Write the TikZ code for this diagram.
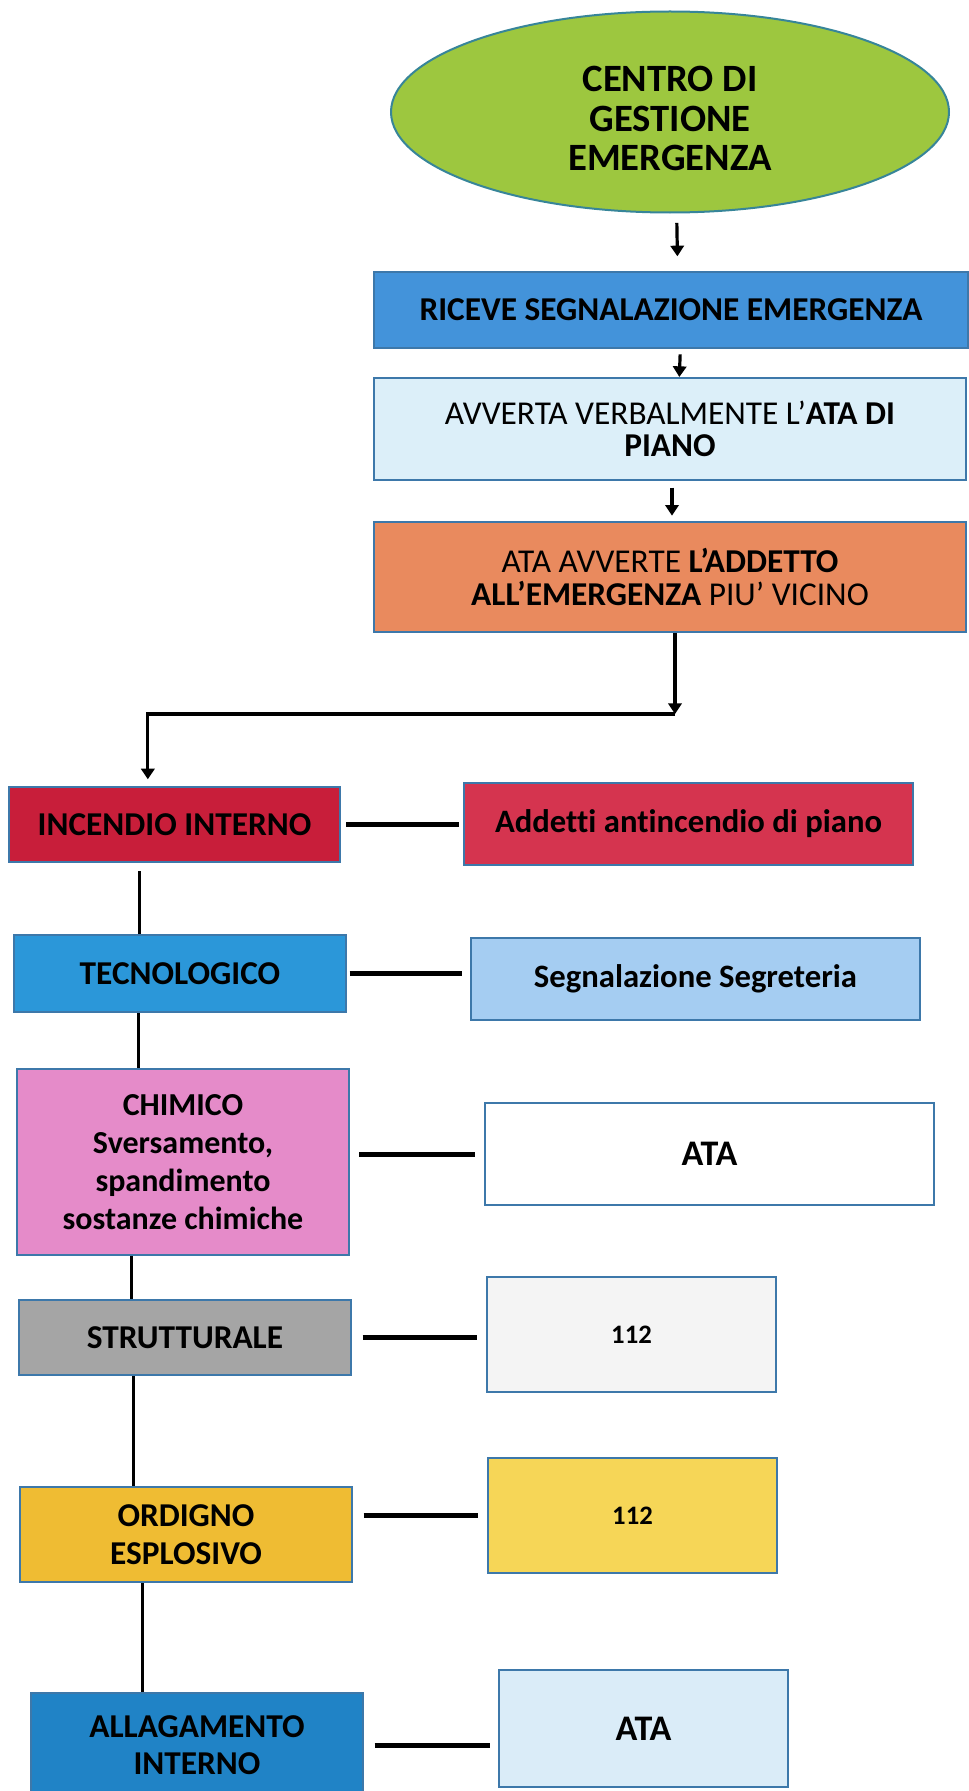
\documentclass[tikz,border=0pt]{standalone}
\usepackage{fontspec}
\setmainfont[Ligatures=NoCommon]{Carlito}
\usetikzlibrary{shapes.geometric,arrows.meta}

\definecolor{edgeblue}{HTML}{3D78AA}
\definecolor{centrogreen}{HTML}{9DC73F}
\definecolor{riceveblue}{HTML}{4393DA}
\definecolor{paleblue}{HTML}{DCEFF9}
\definecolor{salmon}{HTML}{E98A5E}
\definecolor{firered}{HTML}{C81E3A}
\definecolor{lightred}{HTML}{D5344F}
\definecolor{techblue}{HTML}{2B97D9}
\definecolor{skyblue}{HTML}{A5CDF2}
\definecolor{chempink}{HTML}{E58BC9}
\definecolor{structgray}{HTML}{A5A5A5}
\definecolor{offwhite}{HTML}{F4F4F4}
\definecolor{bombgold}{HTML}{EFBC33}
\definecolor{lightgold}{HTML}{F6D657}
\definecolor{floodblue}{HTML}{2083C6}
\definecolor{icyblue}{HTML}{DAECF8}

\tikzset{
    box/.style={draw=edgeblue, line width=1.5pt, inner sep=0pt, align=center,
        font=\fontsize{25}{28.5}\selectfont\bfseries},
    size/.style 2 args={minimum width=#1*0.75pt, minimum height=#2*0.75pt},
    arr/.style={line width=2.4pt, -{Triangle[length=8pt,width=10pt]}},
    spine/.style={line width=2.25pt},
    link/.style={line width=3.75pt},
}

\begin{document}
\begin{tikzpicture}[x=0.75pt,y=-0.75pt]
        \useasboundingbox (0,0) rectangle (969,1791);
        %% Chain on the right
        \node[box, ellipse, fill=centrogreen, draw=edgeblue!90!green, size={558}{201},
              label={[name=centrotxt, align=center, yshift=-5pt,
                      font=\fontsize{29}{29.5}\selectfont\bfseries]center:CENTRO DI\\GESTIONE\\EMERGENZA}]
              (centro) at (670,112) {};
        \node[box, fill=riceveblue, size={594}{76}] (riceve) at (671,310)
              {RICEVE SEGNALAZIONE EMERGENZA};
        \node[box, fill=paleblue, size={592}{102}, font=\fontsize{25}{24}\selectfont] (avverta) at (670,429)
              {AVVERTA VERBALMENTE L’\textbf{ATA DI}\\\textbf{PIANO}};
        \node[box, fill=salmon, size={592}{110}, font=\fontsize{25}{25}\selectfont] (ataavv) at (670,577)
              {ATA AVVERTE \textbf{L’ADDETTO}\\\textbf{ALL’EMERGENZA} PIU’ VICINO};
        %% Emergencies on the left
        \node[box, fill=firered, size={331}{75}]  (incendio) at (174.5,824.5) {INCENDIO INTERNO};
        \node[box, fill=techblue, size={332}{77}] (tecno)    at (180,973.5)   {TECNOLOGICO};
        \node[box, fill=chempink, size={332}{186}, font=\fontsize{24}{28.5}\selectfont\bfseries] (chimico) at (183,1162)
              {CHIMICO\\Sversamento,\\spandimento\\sostanze chimiche};
        \node[box, fill=structgray, size={332}{75}] (strutt) at (185,1337.5) {STRUTTURALE};
        \node[box, fill=bombgold, size={332}{95}] (ordigno) at (186,1534.5)
              {ORDIGNO\\ESPLOSIVO};
        \node[box, fill=floodblue, size={332}{104}, font=\fontsize{25}{28}\selectfont\bfseries] (allag) at (197,1745)
              {ALLAGAMENTO\\INTERNO};
        %% Who acts
        \node[box, fill=lightred, size={449}{82}, font=\fontsize{24.5}{28}\selectfont\bfseries]
              (addetti) at (688.5,824) {Addetti antincendio di piano};
        \node[box, fill=skyblue, size={449}{82}, font=\fontsize{24.5}{28}\selectfont\bfseries]
              (segnal)  at (695.5,979) {Segnalazione Segreteria};
        \node[box, fill=white, size={449}{102}, font=\fontsize{27}{30}\selectfont\bfseries] (ata1) at (709.5,1154) {ATA};
        \node[box, fill=offwhite, size={289}{115}, font=\fontsize{20}{24}\selectfont\bfseries] (nuA) at (631.5,1334.5) {112};
        \node[box, fill=lightgold, size={289}{115}, font=\fontsize{20}{24}\selectfont\bfseries] (nuB) at (632.5,1515.5) {112};
        \node[box, fill=icyblue, size={289}{117}, font=\fontsize{27}{30}\selectfont\bfseries] (ata2) at (643.5,1728.5) {ATA};
        %% Arrows
        \draw[arr, shorten <=7pt, shorten >=11pt] ([xshift=5pt]centro.south) -- ([xshift=5pt]riceve.north);
        \draw[arr, shorten <=4pt] ([xshift=7pt]riceve.south) -- ([xshift=7pt]avverta.north);
        \draw[arr, shorten <=5pt, shorten >=4pt] ([xshift=1.5pt]avverta.south) -- ([xshift=1.5pt]ataavv.north);
        \coordinate (bend) at (675,714);
        \draw[arr] (ataavv.south -| bend) -- (bend);
        \draw[arr, shorten >=5pt] (bend) -| ([xshift=-20pt]incendio.north);
        %% Spine
        \draw[spine, shorten <=6pt] (incendio.south -| 139,0) -- (tecno.north -| 139,0);
        \draw[spine] (tecno.south -| 138,0) -- (chimico.north -| 138,0);
        \draw[spine] (chimico.south -| 131,0) -- (strutt.north -| 131,0);
        \draw[spine] (strutt.south -| 133,0) -- (ordigno.north -| 133,0);
        \draw[spine] (ordigno.south -| 142,0) -- (allag.north -| 142,0);
        %% Links
        \draw[link, shorten <=4pt, shorten >=3pt] (incendio.east) -- (incendio.east -| addetti.west);
        \draw[link, shorten <=2pt, shorten >=6pt] (tecno.east) -- (tecno.east -| segnal.west);
        \draw[link, shorten <=7pt, shorten >=7pt] (chimico.east |- ata1.west) -- (ata1.west);
        \draw[link, shorten <=8pt, shorten >=7pt] (strutt.east) -- (strutt.east -| nuA.west);
        \draw[link, shorten <=8pt, shorten >=7pt] (ordigno.east |- nuB.west) -- (nuB.west);
        \draw[link, shorten <=8pt, shorten >=6pt] (allag.east) -- (allag.east -| ata2.west);
    \end{tikzpicture}
\end{document}
